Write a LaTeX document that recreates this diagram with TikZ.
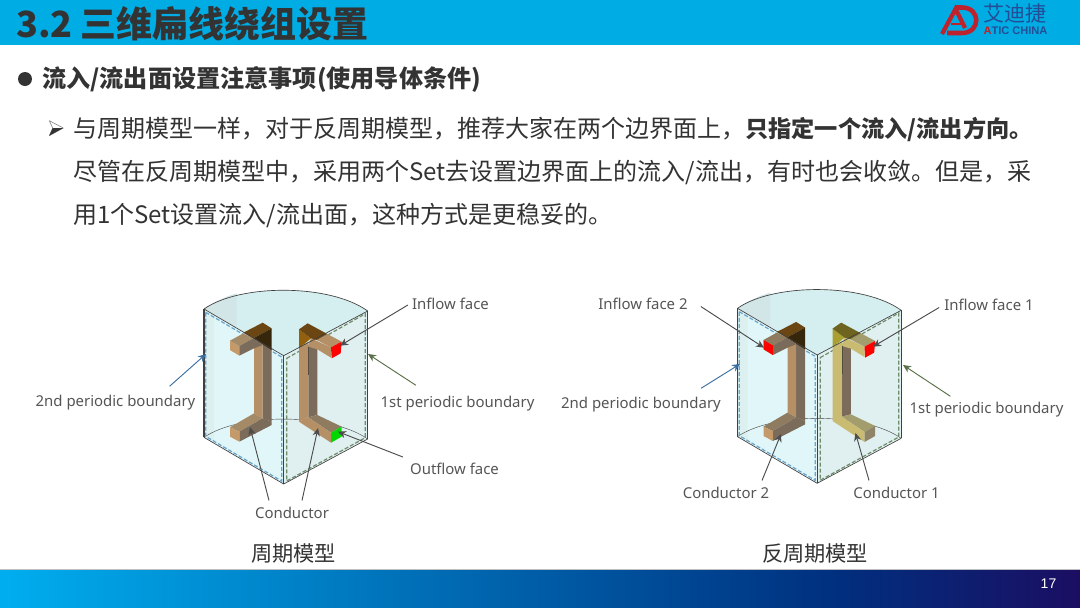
\documentclass[tikz,border=0pt]{standalone}
\usepackage{fontspec}
\setmainfont{Noto Sans CJK SC}
\newfontfamily\labfont{Noto Sans}
\newfontfamily\numfont{Liberation Sans}
\usepackage{xcolor}
\usepackage{tikz}
\usetikzlibrary{arrows.meta, calc}
\definecolor{HeadBlue}{RGB}{0, 172, 228}
\definecolor{TextDark}{RGB}{51, 51, 51}
\definecolor{LabGrey}{RGB}{85, 85, 85}
\definecolor{LogoRed}{RGB}{190, 35, 45}
\definecolor{LogoBlue}{RGB}{35, 78, 150}
\definecolor{FaceLeft}{RGB}{224, 246, 248}
\definecolor{FaceBand}{RGB}{220, 240, 240}
\definecolor{FaceRight}{RGB}{224, 239, 240}
\definecolor{FaceTop}{RGB}{213, 238, 240}
\definecolor{FaceTopB}{RGB}{210, 229, 231}
\definecolor{DashBlue}{RGB}{105, 165, 205}
\definecolor{DashGreen}{RGB}{110, 140, 105}
\definecolor{ArrBlue}{RGB}{60, 110, 160}
\definecolor{ArrGreen}{RGB}{90, 112, 72}
\definecolor{Tan}{RGB}{181, 144, 102}
\definecolor{TanEnd}{RGB}{197, 154, 106}
\definecolor{ArmTan}{RGB}{165, 138, 104}
\definecolor{Strip}{RGB}{122, 107, 90}
\definecolor{TopDark}{RGB}{107, 69, 18}
\definecolor{TopBlack}{RGB}{53, 38, 12}
\definecolor{TopFront}{RGB}{147, 96, 15}
\definecolor{Yel}{RGB}{201, 187, 114}
\definecolor{YelTop}{RGB}{110, 100, 32}
\definecolor{YelFront}{RGB}{170, 160, 48}
\definecolor{YelArm}{RGB}{163, 156, 108}
\definecolor{YelEnd}{RGB}{143, 132, 104}
\definecolor{ArmGrey}{RGB}{142, 123, 96}
\definecolor{FootA}{RGB}{0, 174, 239}
\definecolor{FootB}{RGB}{0, 48, 127}
\definecolor{FootC}{RGB}{27, 14, 98}
\pgfdeclarehorizontalshading{footband}{100bp}{color(0bp)=(FootA); color(25bp)=(FootA); color(63.5bp)=(FootB); color(75bp)=(FootC); color(100bp)=(FootC)}
\newcommand{\cellfaces}{
\fill[FaceTop] (42,72) .. controls (150,-4) and (420,-4) .. (533,78) -- (281,212) -- cycle;
\fill[FaceTopB] (42,72) .. controls (75,50) and (105,35) .. (140,25) -- (140,128) -- cycle;
\fill[FaceLeft] (42,72) -- (281,212) -- (281,597) -- (42,457) -- cycle;
\fill[FaceBand] (42,72) -- (72,90) -- (72,475) -- (42,457) -- cycle;
\fill[FaceRight] (281,212) -- (533,78) -- (533,462) -- (281,597) -- cycle;
\draw[cellline, line width=.3pt] (42,457) .. controls (150,383) and (420,383) .. (533,462);
\draw[DashBlue, dash pattern=on 3pt off 1.5pt, line width=.9pt] (47,82) -- (275,216) -- (275,588) -- (47,454) -- cycle;
\draw[DashGreen, dash pattern=on 3pt off 1.5pt, line width=.9pt] (290,220) -- (526,86) -- (526,458) -- (290,588) -- cycle;}
\newcommand{\cellframe}{
\draw[cellline] (42,72) .. controls (150,-4) and (420,-4) .. (533,78);
\draw[cellline] (42,72) -- (281,212) -- (533,78);
\draw[cellline] (42,457) -- (281,597) -- (533,462);
\draw[cellline, line width=.8pt] (42,72) -- (42,457);
\draw[cellline] (533,78) -- (533,462);
\draw[cellline] (281,212) -- (281,597);}
% #1 upper arm top, #2 lower arm top
\newcommand{\conductorL}[2]{
\fill[Strip] (218,165) -- (245,190) -- (245,410) -- (218,400) -- cycle;
\fill[Tan] (192,165) -- (218,175) -- (218,400) -- (192,385) -- cycle;
\fill[#2] (120,427) -- (192,385) -- (218,400) -- (148,440) -- cycle;
\fill[Strip] (148,440) -- (218,400) -- (245,410) -- (245,420) -- (148,470) -- cycle;
\fill[TanEnd] (120,427) -- (148,440) -- (148,470) -- (120,455) -- cycle;
\fill[TanEnd] (120,167) -- (148,183) -- (148,212) -- (120,195) -- cycle;
\fill[#1] (120,167) -- (160,145) -- (190,160) -- (148,183) -- cycle;
\fill[Strip] (148,183) -- (190,160) -- (218,180) -- (192,190) -- (148,212) -- cycle;
\fill[TopDark] (160,143) -- (218,113) -- (245,130) -- (190,160) -- cycle;
\fill[TopBlack] (190,160) -- (245,130) -- (245,195) -- cycle;}
% #1 light, #2 top front, #3 top, #4 arm top, #5 lower arm top, #6 lower end
\newcommand{\conductorR}[6]{
\fill[Strip] (355,180) -- (382,190) -- (382,390) -- (355,397) -- cycle;
\fill[#1] (327,190) -- (355,170) -- (355,397) -- (327,410) -- cycle;
\fill[#5] (355,397) -- (382,390) -- (455,425) -- (423,443) -- cycle;
\fill[#1] (327,410) -- (355,397) -- (423,443) -- (423,473) -- cycle;
\fill[#6] (423,443) -- (455,425) -- (455,455) -- (423,473) -- cycle;
\fill[#1] (355,180) -- (363,160) -- (423,187) -- (423,218) -- (382,193) -- (355,185) -- cycle;
\fill[#4] (380,165) -- (412,147) -- (455,170) -- (423,187) -- cycle;
\fill[#2] (327,133) -- (363,160) -- (327,190) -- cycle;
\fill[#3] (327,133) -- (353,115) -- (412,147) -- (380,165) -- (363,160) -- cycle;
\draw[Strip!70!black, line width=.4pt] (355,185) -- (355,270);}
\begin{document}
\begin{tikzpicture}[x=0.75pt, y=-0.75pt,
  ttl/.style={font=\fontsize{27}{30}\selectfont\bfseries, text=TextDark, anchor=west, inner sep=0pt},
  head/.style={font=\fontsize{18.1}{20}\selectfont\bfseries, text=TextDark, anchor=west, inner sep=0pt},
  body/.style={font=\fontsize{18}{20}\selectfont, text=TextDark, anchor=west, inner sep=0pt},
  capt/.style={font=\fontsize{15.9}{18}\selectfont, text=TextDark, inner sep=0pt},
  lab/.style={font=\labfont\fontsize{11.2}{13}\selectfont, text=LabGrey, inner sep=0pt},
  cellline/.style={draw=black!75, line width=.5pt},
  arr/.style={-{Stealth[length=6pt, width=5.5pt]}, black!70, line width=.7pt},
  barr/.style={-{Stealth[length=6pt, width=5.5pt]}, ArrBlue, line width=.7pt},
  garr/.style={-{Stealth[length=6pt, width=5.5pt]}, ArrGreen, line width=.7pt}]
\useasboundingbox (0,0) rectangle (1080,607);
\fill[white] (0,0) rectangle (1080,607);
\fill[HeadBlue] (0,0) rectangle (1080,44.5);
\shade[shading=footband] (0,570) rectangle (1080,607);
\draw[black!25, line width=.5pt] (0,569.6) -- (1080,569.6);
\node[ttl] (title) at (16,24) {3.2 三维扁线绕组设置};
\node[font=\numfont\fontsize{10.5}{12}\selectfont, text=white, inner sep=0pt] (page) at (1048.5,584) {17};
\draw[LogoRed, line width=3.2pt] (942,34) -- (955.5,9) -- (965,28);
\draw[LogoRed, line width=3.4pt] (955,7.5) -- (962,7.5) .. controls (981,7.5) and (981,33) .. (962,33) -- (947,33);
\draw[LogoRed, line width=1.8pt] (951,24) -- (963,24);
\node[font=\fontsize{15.8}{16}\selectfont, text=LogoBlue, inner sep=0pt] (logocn) at (1015,14) {艾迪捷};
\node[font=\numfont\fontsize{8.3}{10}\selectfont\bfseries, text=LogoBlue, inner sep=0pt] (logoen) at (1015.5,31) {\textcolor{LogoRed}{A}TIC CHINA};
\fill[TextDark] (25,79) circle (7);
\node[head] (point) at (42,79) {流入/流出面设置注意事项(使用导体条件)};
\draw[black!45, line width=.5pt, line join=round] (49.3,120.7) -- (63.3,128) -- (49.3,135.7) -- (52.7,128) -- cycle;
\fill[TextDark] (49.3,135.7) -- (63.3,128) -- (52.7,128) -- cycle;
\node[body] (lineA) at (73,129.5) {与周期模型一样，对于反周期模型，推荐大家在两个边界面上，{\fontsize{17.4}{20}\selectfont\bfseries 只指定一个流入/流出方向。}};
\node[body] (lineB) at (73,172.5) {尽管在反周期模型中，采用两个Set去设置边界面上的流入/流出，有时也会收敛。但是，采};
\node[body] (lineC) at (73,215.5) {用1个Set设置流入/流出面，这种方式是更稳妥的。};
\begin{scope}[shift={(190,285)}, x=0.25pt, y=-0.25pt]
\cellfaces
\conductorL{ArmTan}{ArmTan}
\conductorR{Tan}{TopFront}{TopDark}{Tan}{ArmGrey}{green!85!black}
\fill[red] (423,187) -- (455,170) -- (452,205) -- (425,220) -- cycle;
\cellframe
\end{scope}
\begin{scope}[shift={(723.5,284.3)}, x=0.25pt, y=-0.25pt]
\cellfaces
\conductorL{ArmGrey}{ArmGrey}
\conductorR{Yel}{YelFront}{YelTop}{YelArm}{YelArm}{YelEnd}
\fill[red] (423,187) -- (455,170) -- (452,205) -- (425,220) -- cycle;
\fill[red] (120,167) -- (148,183) -- (148,212) -- (120,195) -- cycle;
\cellframe
\end{scope}
\node[lab] (inA) at (450.5,304) {Inflow face};
\node[lab] (secA) at (115.5,403) {2nd periodic boundary};
\node[lab] (firA) at (457.5,404) {1st periodic boundary};
\node[lab] (outA) at (454.5,469) {Outflow face};
\node[lab] (conA) at (292,512.5) {Conductor};
\node[capt] (capA) at (293.5,553.5) {周期模型};
\node[lab] (inC) at (643,303.5) {Inflow face 2};
\node[lab] (inB) at (989,304.5) {Inflow face 1};
\node[lab] (secB) at (641,405) {2nd periodic boundary};
\node[lab] (firB) at (986.5,410) {1st periodic boundary};
\node[lab] (conC) at (726,492.5) {Conductor 2};
\node[lab] (conB) at (896.5,492.5) {Conductor 1};
\node[capt] (capB) at (815,553.5) {反周期模型};
\coordinate (inAtip) at (340,345.7);
\coordinate (secAtip) at (206,354);
\coordinate (firAtip) at (368,354);
\coordinate (outAtip) at (338,431.7);
\coordinate (conAtipL) at (250,427);
\coordinate (conAtipR) at (318,428);
\coordinate (inCtip) at (764,347.7);
\coordinate (inBtip) at (873,346.7);
\coordinate (secBtip) at (740,364);
\coordinate (firBtip) at (903,365);
\coordinate (conCtip) at (781,434);
\coordinate (conBtip) at (855.5,433);
\draw[arr] ($(inA.west)+(-4,1)$) -- (inAtip);
\draw[barr] ($(secA.north east)+(-26,-9)$) -- (secAtip);
\draw[garr] ($(firA.north west)+(35.5,-11)$) -- (firAtip);
\draw[arr] ($(outA.west)+(-7,-12)$) -- (outAtip);
\draw[arr] ($(conA.north)+(-23,-6)$) -- (conAtipL);
\draw[arr] ($(conA.north)+(10,-6)$) -- (conAtipR);
\draw[arr] ($(inC.east)+(13,3)$) -- (inCtip);
\draw[arr] ($(inB.west)+(-5,3)$) -- (inBtip);
\draw[barr] ($(secB.north east)+(-20,-9)$) -- (secBtip);
\draw[garr] ($(firB.north west)+(41,-6)$) -- (firBtip);
\draw[arr] ($(conC.north)+(36,-6)$) -- (conCtip);
\draw[arr] ($(conB.north)+(-27.5,-6)$) -- (conBtip);
\end{tikzpicture}
\end{document}
